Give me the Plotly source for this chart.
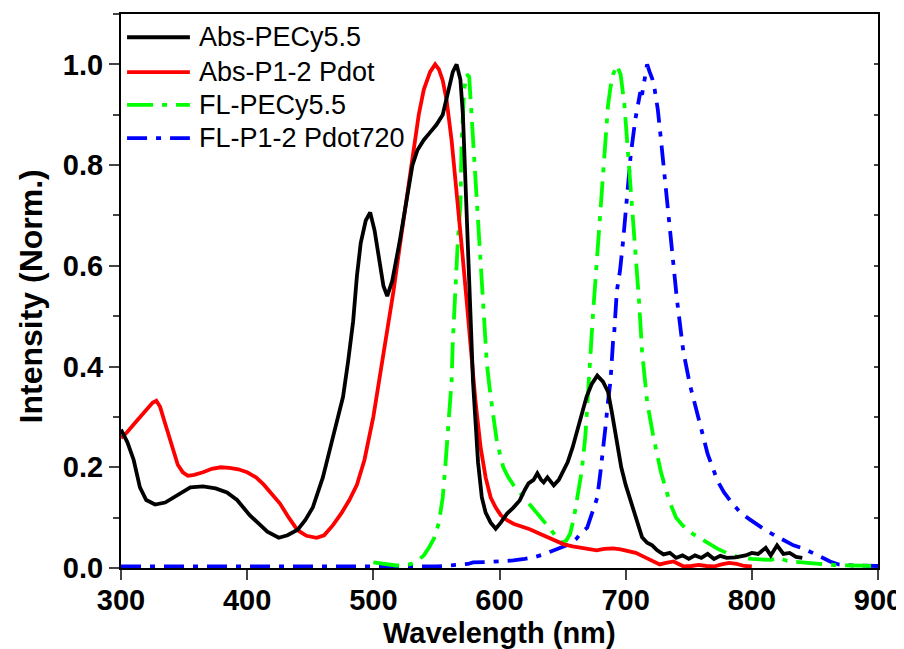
import plotly.graph_objects as go

# ---------------- data ----------------
abs_pecy_x = [300, 305, 310, 315, 320, 327, 335, 345, 355, 365, 375, 384, 392, 402, 410, 416, 425, 432, 440,
              446, 452, 460, 466, 471, 476, 480, 484, 487, 490, 494, 497.5, 501, 505, 508, 511, 515, 521, 526,
              531, 535, 540, 545, 550, 555, 559, 563, 566, 569, 571, 573, 575, 577, 579, 581, 583, 586, 589,
              593, 597, 601, 606, 611, 616, 620, 623, 627, 630, 633, 635, 638, 641, 643, 647, 650, 654, 658,
              663, 669, 673, 677.5, 682, 686, 689, 693, 696.5, 700, 705, 709, 713, 717, 721, 725, 730, 735,
              740, 745, 750, 755, 760, 765, 770, 775, 780, 787, 795, 800, 805, 811, 815, 820, 825, 830, 835, 840]
abs_pecy_y = [0.275, 0.25, 0.215, 0.16, 0.135, 0.126, 0.13, 0.145, 0.16, 0.162, 0.158, 0.15, 0.135, 0.105,
              0.085, 0.072, 0.06, 0.065, 0.076, 0.095, 0.12, 0.18, 0.24, 0.29, 0.34, 0.41, 0.49, 0.58, 0.645,
              0.69, 0.706, 0.67, 0.60, 0.56, 0.54, 0.57, 0.65, 0.73, 0.80, 0.83, 0.85, 0.865, 0.88, 0.90, 0.94,
              0.985, 1.0, 0.97, 0.90, 0.77, 0.60, 0.47, 0.37, 0.29, 0.21, 0.14, 0.11, 0.09, 0.078, 0.09, 0.108,
              0.12, 0.134, 0.155, 0.168, 0.175, 0.188, 0.175, 0.17, 0.18, 0.17, 0.164, 0.175, 0.19, 0.21, 0.24,
              0.285, 0.34, 0.365, 0.382, 0.37, 0.35, 0.31, 0.25, 0.20, 0.165, 0.125, 0.09, 0.061, 0.05, 0.045,
              0.035, 0.027, 0.03, 0.02, 0.025, 0.018, 0.025, 0.02, 0.028, 0.018, 0.024, 0.02, 0.021, 0.025,
              0.03, 0.028, 0.04, 0.025, 0.045, 0.028, 0.03, 0.022, 0.02]

abs_pdot_x = [300, 305, 310, 315, 320, 325, 328, 331, 334, 337, 341, 345, 349, 353, 358, 365, 372, 379, 386,
              393, 400, 407, 413, 420, 426, 433, 440, 447, 455, 461, 468, 475, 481, 487, 493, 500, 506, 511,
              516, 521, 526, 531, 536, 540, 545, 549, 552, 555, 558, 562, 566, 570, 574, 577, 581, 585, 589,
              593, 597, 601, 606, 611, 618, 624, 631, 638, 645, 651, 658, 664, 670, 677, 683, 690, 696, 702,
              708, 713, 718, 723, 727, 732, 738, 742, 746, 752, 758, 764, 770, 776, 782, 788, 794, 800]
abs_pdot_y = [0.258, 0.27, 0.285, 0.30, 0.315, 0.328, 0.332, 0.32, 0.295, 0.27, 0.235, 0.205, 0.19, 0.183,
              0.185, 0.19, 0.197, 0.2, 0.199, 0.196, 0.19, 0.18, 0.166, 0.147, 0.128, 0.1, 0.075, 0.064, 0.06,
              0.065, 0.085, 0.11, 0.135, 0.165, 0.215, 0.3, 0.39, 0.47, 0.55, 0.64, 0.73, 0.82, 0.9, 0.95,
              0.985, 1.0, 0.99, 0.968, 0.93, 0.85, 0.75, 0.64, 0.53, 0.44, 0.33, 0.24, 0.18, 0.14, 0.12, 0.105,
              0.095, 0.088, 0.082, 0.077, 0.069, 0.061, 0.052, 0.047, 0.043, 0.041, 0.038, 0.035, 0.038, 0.039,
              0.037, 0.033, 0.03, 0.024, 0.018, 0.01, 0.007, 0.01, 0.013, 0.008, 0.003, 0.004, 0.006, 0.004,
              0.003, 0.007, 0.01, 0.008, 0.004, 0.003]

fl_pecy_x = [500, 505, 512, 518, 524, 530, 535, 540, 544, 548, 552, 555, 557, 559, 561, 562, 563, 565, 567,
             569, 570, 572, 574, 576, 578, 580, 582, 585, 587, 590, 593, 598, 603, 607, 611, 616, 622, 628,
             635, 641, 646, 650, 653, 656, 659, 662, 665, 668, 670, 672, 674, 676, 678, 680, 682, 684, 686,
             688, 690, 693, 696, 699, 702, 705, 708, 710.5, 713, 717, 722, 728, 735, 740, 745, 750, 757, 765,
             773, 780, 790, 800, 806, 815, 822, 828, 835, 845, 855, 865, 880, 900]
fl_pecy_y = [0.011, 0.009, 0.007, 0.005, 0.005, 0.008, 0.014, 0.025, 0.04, 0.058, 0.09, 0.14, 0.2, 0.27, 0.33,
             0.37, 0.45, 0.57, 0.65, 0.72, 0.85, 0.95, 0.98, 0.975, 0.89, 0.815, 0.73, 0.6, 0.505, 0.405, 0.34,
             0.25, 0.2, 0.18, 0.165, 0.15, 0.134, 0.115, 0.095, 0.075, 0.059, 0.05, 0.055, 0.068, 0.1, 0.14,
             0.19, 0.26, 0.33, 0.42, 0.5, 0.57, 0.65, 0.72, 0.79, 0.86, 0.918, 0.955, 0.98, 0.998, 0.98, 0.92,
             0.82, 0.74, 0.635, 0.534, 0.43, 0.33, 0.26, 0.19, 0.13, 0.1, 0.085, 0.073, 0.062, 0.05, 0.038,
             0.03, 0.021, 0.018, 0.017, 0.016, 0.02, 0.014, 0.012, 0.01, 0.007, 0.006, 0.005, 0.004]

fl_pdot_x = [300, 350, 400, 450, 500, 550, 575, 579, 590, 600, 611, 620, 627, 635, 643, 650, 656, 661, 664,
             669.5, 672, 675, 677.5, 680, 682, 684, 686, 688, 690, 691, 693, 695.5, 698, 701, 704, 707.6, 710,
             711.6, 713, 715, 717, 719, 721, 723, 725.5, 728, 731, 734, 736.5, 740.6, 745.7, 751, 758, 765,
             773, 778, 784, 791, 798, 804, 811, 818, 825, 833, 841.6, 848, 855, 862, 869, 880, 900]
fl_pdot_y = [0.003, 0.003, 0.002, 0.003, 0.003, 0.003, 0.008, 0.011, 0.012, 0.013, 0.015, 0.018, 0.021,
             0.027, 0.035, 0.042, 0.048, 0.058, 0.068, 0.08, 0.1, 0.12, 0.14, 0.19, 0.23, 0.28, 0.33, 0.372,
             0.45, 0.47, 0.55, 0.59, 0.65, 0.74, 0.82, 0.89, 0.93, 0.945, 0.94, 0.97, 1.0, 0.985, 0.972, 0.95,
             0.91, 0.85, 0.773, 0.706, 0.636, 0.534, 0.43, 0.363, 0.295, 0.226, 0.172, 0.15, 0.13, 0.11, 0.097,
             0.086, 0.075, 0.065, 0.055, 0.045, 0.038, 0.03, 0.021, 0.013, 0.007, 0.005, 0.004]

series_names = ["Abs-PECy5.5", "Abs-P1-2 Pdot", "FL-PECy5.5", "FL-P1-2 Pdot720"]
x_ticks = [300, 400, 500, 600, 700, 800, 900]
y_ticks = [0.0, 0.2, 0.4, 0.6, 0.8, 1.0]
x_title = "Wavelength (nm)"
y_title = "Intensity (Norm.)"

# ---------------- styling ----------------
FONT = "Liberation Sans, Arial, sans-serif"
styles = [
    dict(color="#000000", width=3.8, dash="solid"),
    dict(color="#ff0000", width=3.8, dash="solid"),
    dict(color="#00ff00", width=3.8, dash="26px,9px,5px,9px"),
    dict(color="#0000ff", width=3.8, dash="20px,9px,5px,9px"),
]
data = [(abs_pecy_x, abs_pecy_y), (abs_pdot_x, abs_pdot_y), (fl_pecy_x, fl_pecy_y), (fl_pdot_x, fl_pdot_y)]

fig = go.Figure()
for idx in [3, 2, 1, 0]:
    xs, ys = data[idx]
    fig.add_trace(go.Scatter(x=xs, y=ys, mode="lines", name=series_names[idx],
                             line=styles[idx], showlegend=False))

# dummy trace for right-side inner ticks
fig.add_trace(go.Scatter(x=[None], y=[None], yaxis="y2", showlegend=False, hoverinfo="skip"))

# manual legend (line samples + text) in paper coords
leg_rows = [0.958, 0.895, 0.836, 0.776]
for name, st, yy in zip(series_names, styles, leg_rows):
    fig.add_shape(type="line", xref="paper", yref="paper", x0=0.008, x1=0.091, y0=yy, y1=yy,
                  line=dict(color=st["color"], width=st["width"], dash=st["dash"]))
    fig.add_annotation(xref="paper", yref="paper", x=0.100, y=yy, text=name, showarrow=False,
                       xanchor="left", yanchor="middle", font=dict(family=FONT, size=27, color="black"))

# axis titles
fig.add_annotation(xref="paper", yref="paper", x=0.5, y=-0.117, text=x_title, showarrow=False,
                   xanchor="center", yanchor="middle",
                   font=dict(family=FONT, size=29, color="black", weight="bold"))
fig.add_annotation(xref="paper", yref="paper", x=-0.119, y=0.49, text=y_title, showarrow=False,
                   textangle=-90, xanchor="center", yanchor="middle",
                   font=dict(family=FONT, size=32, color="black", weight="bold"))

# page body has an 8px margin: figure sized/offset so the plot area lands where the reference has it
fig.update_layout(
    width=896, height=641,
    margin=dict(l=113, r=26, t=6, b=81),
    paper_bgcolor="white", plot_bgcolor="white",
    font=dict(family=FONT, color="black"),
    xaxis=dict(range=[300, 900], tickvals=x_ticks, ticks="outside", ticklen=10, tickwidth=2,
               ticklabelstandoff=-5,
               showline=True, linewidth=2, linecolor="black", mirror=True, showgrid=False, zeroline=False,
               automargin=False, tickfont=dict(family=FONT, size=29, weight="bold")),
    yaxis=dict(range=[0, 1.1], tickvals=y_ticks, tickformat=".1f", ticks="outside", ticklen=10, tickwidth=2,
               minor=dict(dtick=0.1, tick0=0, ticks="outside", ticklen=6, tickwidth=2),
               showline=True, linewidth=2, linecolor="black", mirror=True, showgrid=False, zeroline=False,
               automargin=False, tickfont=dict(family=FONT, size=29, weight="bold")),
    yaxis2=dict(range=[0, 1.1], overlaying="y", side="right", showticklabels=False, tick0=0, dtick=0.1,
                ticks="inside", ticklen=4, tickwidth=2, showline=False, showgrid=False, zeroline=False,
                automargin=False),
)

fig.write_html("out.html")
